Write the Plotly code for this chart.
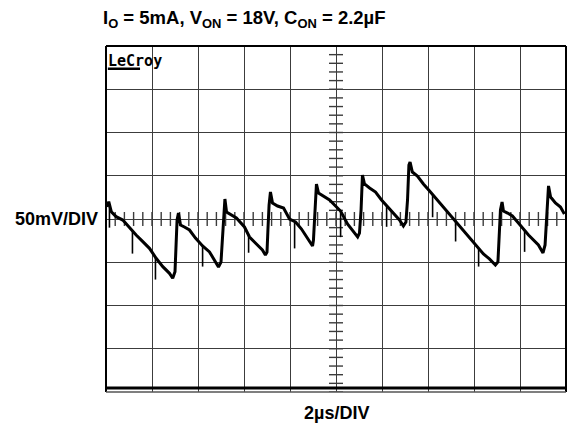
import numpy as np
import plotly.graph_objects as go

# ---- data: time in µs (2 µs/div), voltage in mV (50 mV/div)
t_us = [0.03, 0.12, 0.23, 0.44, 0.73, 1.02, 1.31, 1.60, 1.89, 2.18, 2.47, 2.76, 2.90,
        3.00, 3.05, 3.09, 3.15, 3.24, 3.41, 3.63, 3.89, 4.20, 4.50, 4.76, 4.89,
        5.00, 5.07, 5.13, 5.17, 5.24, 5.46, 5.67, 6.02, 6.24, 6.54, 6.80, 6.93,
        7.00, 7.04, 7.09, 7.15, 7.24, 7.46, 7.72, 7.98, 8.24, 8.50, 8.76, 8.98,
        9.02, 9.09, 9.15, 9.24, 9.46, 9.72, 9.98, 10.20, 10.50, 10.72, 10.94,
        11.02, 11.09, 11.15, 11.24, 11.46, 11.72, 11.98, 12.24, 12.50, 12.76, 12.93,
        13.04, 13.11, 13.17, 13.22, 13.32, 13.54, 13.80, 14.07, 14.33, 14.59, 14.85,
        15.11, 15.37, 15.63, 15.89, 16.15, 16.41, 16.67, 16.93,
        17.04, 17.09, 17.15, 17.22, 17.28, 17.46, 17.67, 17.93, 18.37, 18.80, 19.00,
        19.09, 19.13, 19.20, 19.24, 19.33, 19.54, 19.76, 19.93]
v_mV = [14.2, 20.0, 8.4, 2.7, -1.2, -10.4, -18.5, -26.2, -33.9, -45.4, -55.1, -62.8, -68.5,
        -61.0, -24.0, -1.0, 7.0, -7.0, -9.2, -12.7, -22.0, -31.2, -38.0, -49.7, -55.5,
        -49.7, -18.5, 16.2, 23.1, 8.1, 4.6, 1.2, -9.2, -20.8, -28.9, -35.8, -41.6,
        -38.2, -12.7, 16.2, 31.2, 18.5, 15.0, 12.7, 0.0, -3.5, -11.6, -22.0, -31.2,
        -24.3, 10.4, 40.5, 30.0, 26.6, 22.0, 15.0, 9.2, -5.8, -12.7, -20.8,
        -16.2, 10.4, 50.9, 40.5, 35.8, 31.2, 22.0, 13.9, 5.8, -1.2, -8.1,
        -3.5, 22.0, 62.4, 65.9, 54.3, 49.7, 40.5, 32.4, 24.3, 16.2, 8.1,
        1.2, -6.9, -15.0, -24.3, -32.4, -40.5, -46.2, -53.2,
        -49.7, -18.5, 10.4, 19.7, 9.2, 6.9, 3.5, -4.6, -18.5, -30.0, -39.3,
        -30.0, -6.9, 27.7, 38.2, 25.4, 18.5, 13.9, 5.8]

# noise spikes on the trace: time (µs) and tip voltage (mV)
spike_t = [0.15, 1.15, 2.15, 3.10, 4.20, 6.20, 8.20, 10.20, 12.20, 14.20, 15.20, 16.20, 18.20]
spike_v = [-10.0, -40.0, -70.0, -5.0, -55.0, -39.0, -34.0, -21.0, -9.0, 2.0, -26.0, -55.0, -38.0]

X_RANGE = [0, 20]
Y_RANGE = [-200, 200]
X_DIV = 2
Y_DIV = 50
GRID = "#3c3c3c"

fig = go.Figure()

# center-axis minor ticks (5 per division)
xt = np.arange(X_RANGE[0], X_RANGE[1] + 1e-9, X_DIV / 5)
yt = np.arange(Y_RANGE[0], Y_RANGE[1] + 1e-9, Y_DIV / 5)
fig.add_trace(go.Scatter(x=xt, y=np.zeros_like(xt), mode="markers",
                         marker=dict(symbol="line-ns", size=10, line=dict(width=1.4, color=GRID)),
                         hoverinfo="skip"))
fig.add_trace(go.Scatter(x=np.full_like(yt, 10.0), y=yt, mode="markers",
                         marker=dict(symbol="line-ew", size=10, line=dict(width=1.4, color=GRID)),
                         hoverinfo="skip"))

# spikes
base = np.interp(spike_t, t_us, v_mV)
sx, sy = [], []
for t, b, v in zip(spike_t, base, spike_v):
    sx += [t, t, None]
    sy += [b, v, None]
fig.add_trace(go.Scatter(x=sx, y=sy, mode="lines", line=dict(color="black", width=1.6),
                         hoverinfo="skip"))

# waveform
fig.add_trace(go.Scatter(x=t_us, y=v_mV, mode="lines", line=dict(color="black", width=3),
                         hoverinfo="skip"))

FONT = "Liberation Sans, Arial, sans-serif"
fig.update_layout(
    width=568, height=428,
    margin=dict(l=106, r=2, t=46, b=36),
    paper_bgcolor="white", plot_bgcolor="white",
    showlegend=False,
    title=dict(text="I<sub>O</sub> = 5mA, V<sub>ON</sub> = 18V, C<sub>ON</sub> = 2.2µF",
               x=103 / 568, xanchor="left", y=1 - 18 / 428, yanchor="middle",
               font=dict(family=FONT, size=18.5, color="black", weight="bold")),
    xaxis=dict(range=X_RANGE, dtick=X_DIV, tick0=0, showgrid=True, gridcolor=GRID, gridwidth=1.4,
               showticklabels=False, ticks="", zeroline=False, showline=False, fixedrange=True),
    yaxis=dict(range=Y_RANGE, dtick=Y_DIV, tick0=0, showgrid=True, gridcolor=GRID, gridwidth=1.4,
               showticklabels=False, ticks="", zeroline=False, showline=False, fixedrange=True),
    annotations=[
        dict(text="50mV/DIV", xref="paper", yref="paper", x=-0.013, y=0.5,
             xanchor="right", yanchor="middle", showarrow=False,
             font=dict(family=FONT, size=18, color="black", weight="bold")),
        dict(text="2µs/DIV", xref="paper", yref="paper", x=0.5, y=-0.06,
             xanchor="center", yanchor="middle", showarrow=False,
             font=dict(family=FONT, size=18, color="black", weight="bold")),
        dict(text="LeCroy", xref="paper", yref="paper", x=0.001, y=0.988,
             xanchor="left", yanchor="top", showarrow=False,
             font=dict(family="Liberation Sans Narrow, DejaVu Sans Mono", size=15, color="black", weight="bold")),
    ],
    shapes=[
        dict(type="line", xref="paper", yref="paper", x0=0, x1=0, y0=0, y1=1, line=dict(color="black", width=2)),
        dict(type="line", xref="paper", yref="paper", x0=0, x1=1, y0=1, y1=1, line=dict(color="black", width=2)),
        dict(type="line", xref="paper", yref="paper", x0=1, x1=1, y0=0, y1=1, line=dict(color="black", width=2)),
        dict(type="line", xref="paper", yref="paper", x0=0, x1=1, y0=0, y1=0, line=dict(color="#555", width=1.3)),
        dict(type="line", xref="paper", yref="paper", x0=0, x1=1, y0=0.0116, y1=0.0116, line=dict(color="black", width=3)),
        dict(type="line", xref="paper", yref="paper", x0=0.004, x1=0.074, y0=0.934, y1=0.934, line=dict(color="black", width=2.5)),
    ],
)

fig.write_html("out.html")
